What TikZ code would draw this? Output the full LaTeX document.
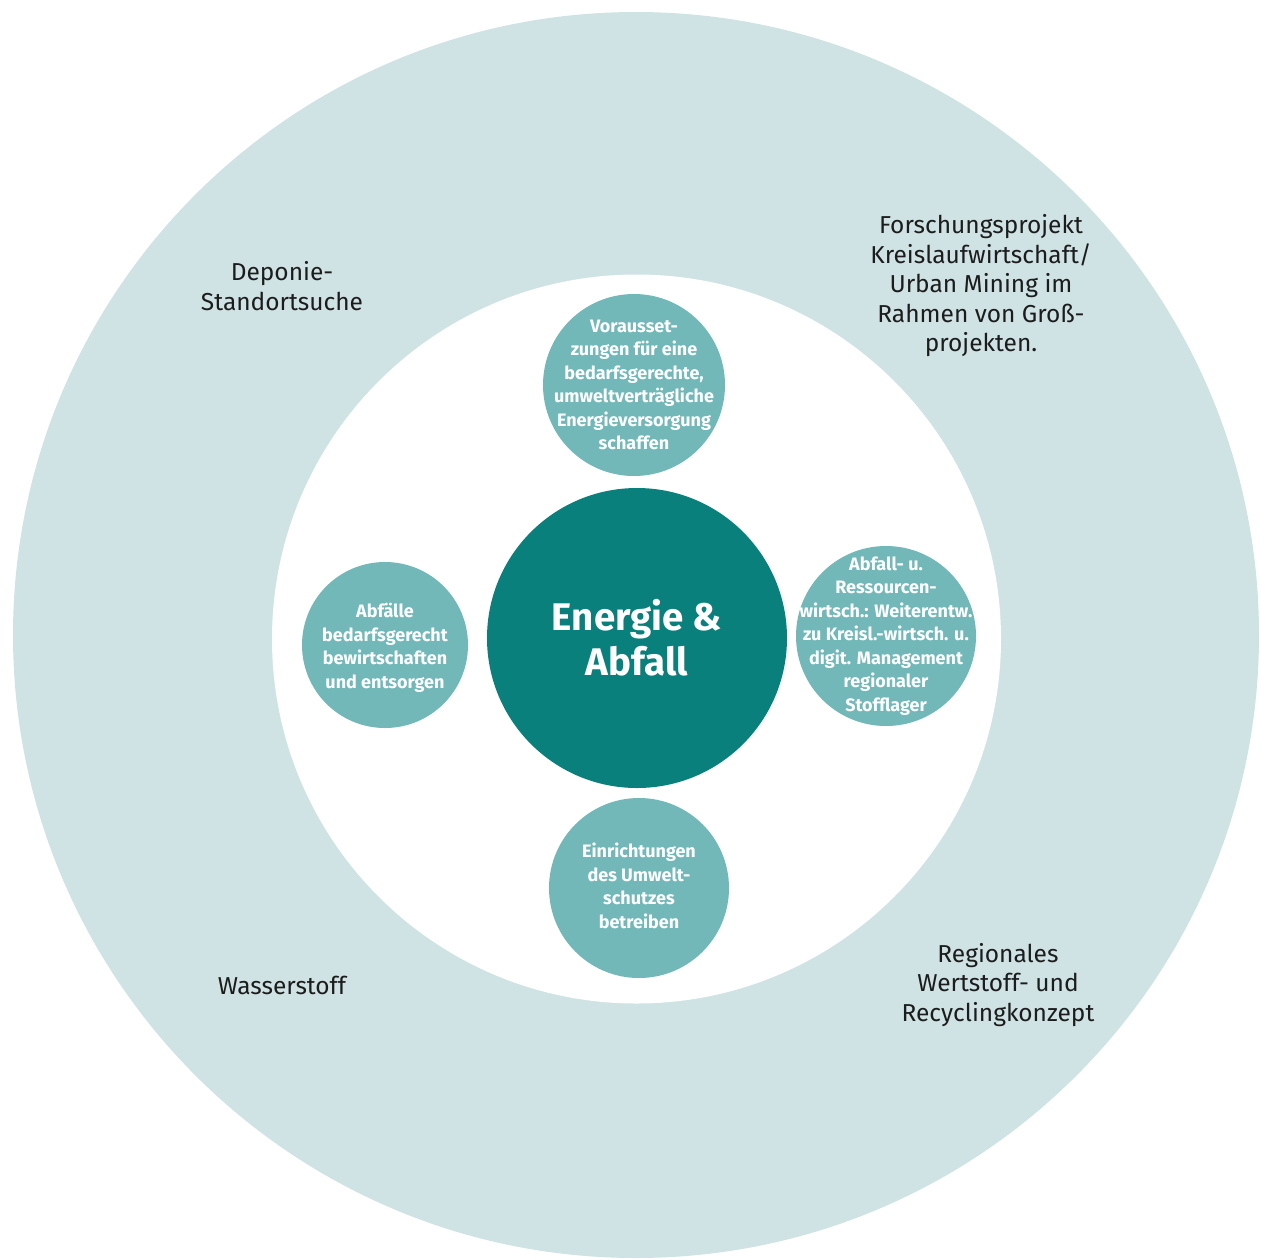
\documentclass[tikz,border=0pt]{standalone}
\usepackage{fontspec}
\setmainfont{Fira Sans}
\definecolor{ringcol}{HTML}{CFE3E4}
\definecolor{subcol}{HTML}{72B8B9}
\definecolor{corecol}{HTML}{0A807D}
\definecolor{labelcol}{HTML}{1C1C1C}
\begin{document}
\begin{tikzpicture}[x=1pt,y=-1pt,
  ringfill/.style={circle,fill=ringcol,draw=none,inner sep=0pt},
  whitefill/.style={circle,fill=white,draw=none,inner sep=0pt},
  subcircle/.style={circle,fill=subcol,draw=none,inner sep=0pt},
  subtext/.style={text=white,align=center,inner sep=0pt,
    font=\fontsize{18}{23.5}\selectfont\bfseries},
  corecircle/.style={circle,fill=corecol,draw=none,inner sep=0pt},
  coretext/.style={text=white,align=center,inner sep=0pt,
    font=\fontsize{38.5}{45}\selectfont\bfseries},
  ringlabel/.style={text=labelcol,align=center,inner sep=0pt,
    font=\fontsize{24.5}{29.5}\selectfont}]
\useasboundingbox (0,0) rectangle (1261,1259);
\node[ringfill,minimum size=1246pt] (ring) at (636,635) {};
\node[whitefill,minimum size=729pt] (inner) at (636.5,639) {};
\node[corecircle,minimum size=300pt] (core) at (637,638) {};
\node[coretext] (coret) at (core.center) {Energie \&\\Abfall};
\node[subcircle,minimum size=182pt] (top) at (634,385) {};
\node[subtext] (topt) at (top.center) {Vorausset-\\zungen für eine\\bedarfsgerechte,\\umweltverträgliche\\Energieversorgung\\schaffen};
\node[subcircle,minimum size=166pt] (left) at (385,645) {};
\node[subtext] (leftt) at ([yshift=-3pt]left.center) {Abfälle\\bedarfsgerecht\\bewirtschaften\\und entsorgen};
\node[subcircle,minimum size=180pt] (right) at (886,636) {};
\node[subtext] (rightt) at (right.center) {Abfall- u.\\Ressourcen-\\wirtsch.: Weiterentw.\\zu Kreisl.-wirtsch. u.\\digit. Management\\regionaler\\Stofflager};
\node[subcircle,minimum size=180pt] (bottom) at (639,888) {};
\node[subtext] (bottomt) at ([yshift=2pt]bottom.center) {Einrichtungen\\des Umwelt-\\schutzes\\betreiben};
\node[ringlabel] (deponie) at (282,286) {Deponie-\\Standortsuche};
\node[ringlabel] (forschung) at (981,286) {Forschungsprojekt\\Kreislaufwirtschaft/\\Urban Mining im\\Rahmen von Groß-\\projekten.};
\node[ringlabel] (wasser) at (282,985) {Wasserstoff};
\node[ringlabel] (regional) at (998,985) {Regionales\\Wertstoff- und\\Recyclingkonzept};
\end{tikzpicture}
\end{document}
